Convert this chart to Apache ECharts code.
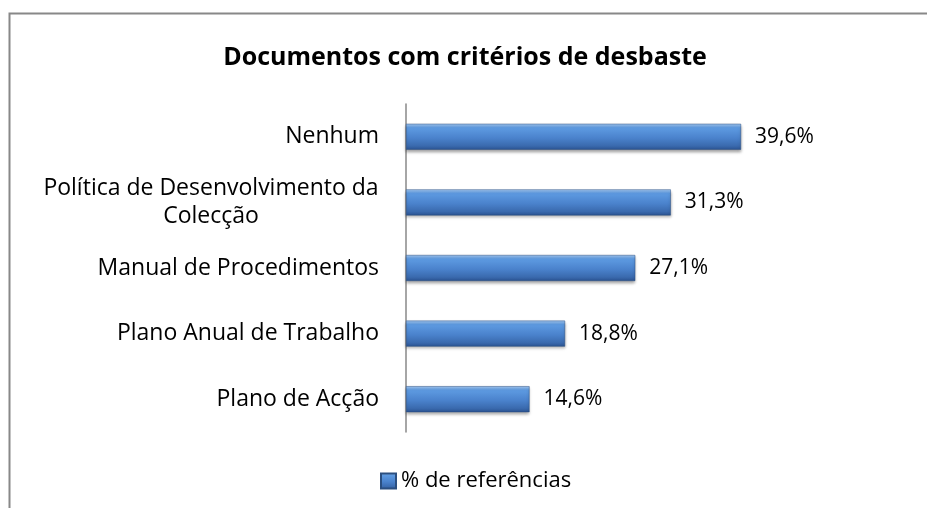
<!DOCTYPE html>
<html>
<head>
<meta charset="utf-8">
<script src="https://cdn.jsdelivr.net/npm/echarts@6/dist/echarts.min.js"></script>
<style>
  html, body { margin: 0; padding: 0; background: #fff; }
  #main { width: 927px; height: 508px; }
</style>
</head>
<body>
<div id="main"></div>
<script>
let categories = [
    'Nenhum',
    'Política de Desenvolvimento da\nColecção',
    'Manual de Procedimentos',
    'Plano Anual de Trabalho',
    'Plano de Acção'
];
let values = [39.6, 31.3, 27.1, 18.8, 14.6];
let seriesName = '% de referências';

let chart = echarts.init(document.getElementById('main'));

let barColor = new echarts.graphic.LinearGradient(0, 0, 0, 1, [
    { offset: 0, color: '#a4caf4' },
    { offset: 0.15, color: '#5e9be2' },
    { offset: 0.55, color: '#4a82cc' },
    { offset: 0.85, color: '#3a6aae' },
    { offset: 1, color: '#2a5290' }
]);

// multi-line labels get their lines centred, like the original
function catLabel(v) {
    if (v.indexOf('\n') < 0) return v;
    return v.split('\n').map(s => '{c|' + s + '}').join('\n');
}

let option = {
    animation: false,
    textStyle: { fontFamily: 'Open Sans' },
    title: {
        text: 'Documentos com critérios de desbaste',
        left: 460,
        textAlign: 'center',
        top: 40,
        textStyle: { fontSize: 25, fontWeight: 'bold', color: '#000', fontFamily: 'Open Sans' }
    },
    graphic: [{
        type: 'rect',
        shape: { x: 9.5, y: 13.5, width: 1000, height: 600 },
        style: { fill: 'none', stroke: '#888', lineWidth: 2 },
        silent: true
    }],
    legend: {
        bottom: 16,
        left: 380,
        padding: 0,
        itemWidth: 15,
        itemHeight: 15,
        itemGap: 5,
        textStyle: { fontSize: 22, color: '#000' },
        data: [{ name: seriesName, icon: 'rect' }]
    },
    grid: { left: 406, top: 104, width: 423, height: 328 },
    xAxis: {
        type: 'value',
        min: 0,
        max: 50,
        show: false
    },
    yAxis: {
        type: 'category',
        inverse: true,
        data: categories,
        axisLine: { show: true, lineStyle: { color: '#888', width: 1.5 } },
        axisTick: { show: false },
        axisLabel: {
            margin: 27,
            fontSize: 23,
            color: '#000',
            lineHeight: 28,
            align: 'right',
            formatter: catLabel,
            rich: {
                c: { width: 336, align: 'center', fontSize: 23, lineHeight: 28, color: '#000' }
            }
        }
    },
    series: [{
        name: seriesName,
        type: 'bar',
        data: values,
        barWidth: 26,
        itemStyle: {
            color: barColor,
            borderColor: '#2b4f80',
            borderWidth: 0.5,
            shadowColor: 'rgba(0,0,0,0.35)',
            shadowBlur: 3,
            shadowOffsetY: 2
        },
        label: {
            show: true,
            position: 'right',
            distance: 14,
            fontSize: 21,
            color: '#000',
            formatter: p => p.value.toFixed(1).replace('.', ',') + '%'
        }
    }]
};

chart.setOption(option);
</script>
</body>
</html>
